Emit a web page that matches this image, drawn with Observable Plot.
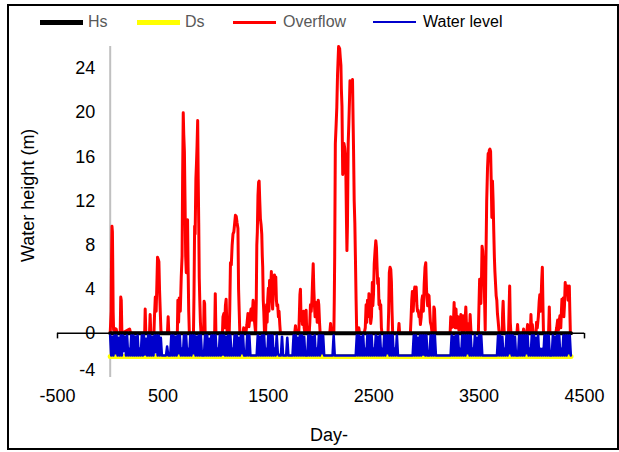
<!DOCTYPE html>
<html><head><meta charset="utf-8">
<script src="https://cdn.jsdelivr.net/npm/d3@7"></script>
<script src="https://cdn.jsdelivr.net/npm/@observablehq/plot@0.6"></script>
<style>
body{margin:0;background:#fff;font-family:"Liberation Sans",Arial,sans-serif;}
#wrap{position:relative;width:619px;height:452px;overflow:hidden;}
#border{position:absolute;left:7px;top:4px;width:612px;height:446px;border:2px solid #000;box-sizing:border-box;pointer-events:none;}
#legend{position:relative;height:35px;}
.sw{position:absolute;}
.lab{position:absolute;top:12px;font-size:16px;line-height:19px;white-space:nowrap;}
#chart svg{display:block;}
</style></head>
<body><div id="wrap"><div id="legend"></div><div id="chart"></div><div id="border"></div></div>
<script>
// ---- data ----
const seriesNames = ["Hs", "Ds", "Overflow", "Water level"];
const seriesColors = ["#000000", "#ffff00", "#ff0000", "#0000cc"];
const xTicks = [-500, 500, 1500, 2500, 3500, 4500];
const yTicks = [-4, 0, 4, 8, 12, 16, 20, 24];

// Hs and Ds: constant levels over the simulated period
const hsDays = [0, 4372];
const hsValues = [0, 0];
const dsDays = [0, 4372];
const dsValues = [-2.1, -2.1];

// Overflow: [day, height m]
const overflow = [
[0,0],[9,2],[13,7],[17,9.7],[21,9.2],[24,6.5],[28,2],[32,0.3],[38,0.5],[46,0],[56,0.4],[66,0],
[95,0],[100,3.3],[105,3.0],[111,0],[184,0.4],[194,0],[327,0],[332,2.2],[338,0],[373,0],[379,1.7],[385,0],
[415,0],[420,1.5],[428,3.3],[436,2.0],[443,4.5],[449,6.9],[456,6.7],[462,6.5],[468,4.0],[475,2.0],[481,0.3],[487,0],
[543,0],[550,1.5],[556,0],
[637,0],[642,3.0],[649,1.0],[655,3.2],[665,2.0],[674,5.1],[682,7.0],[687,14.0],[693,20.0],[698,18.0],[704,16.5],[710,12.0],[716,7.0],[722,5.5],[728,9.0],[734,10.3],[739,6.0],[745,2.0],[751,0],
[790,0],[795,3.5],[801,9.7],[806,9.0],[813,14.0],[819,15.5],[824,17.0],[830,19.3],[835,14.0],[840,10.0],[845,5.0],[850,3.0],[856,1.0],[862,0],
[886,0],[891,2.9],[896,2.7],[901,0],[991,0],[997,3.6],[1003,0],
[1065,0],[1070,1.5],[1078,1.8],[1085,0.5],[1093,2.5],[1100,3.1],[1106,1.0],[1110,0],
[1129,0],[1134,2.0],[1141,6.4],[1149,6.2],[1157,8.0],[1165,9.0],[1173,9.2],[1181,10.0],[1188,10.7],[1196,10.6],[1204,10.0],[1212,9.5],[1218,4.0],[1224,2.0],[1230,0],
[1260,0],[1266,0.5],[1272,0],
[1287,0],[1297,0.8],[1307,1.8],[1316,0.6],[1326,1.5],[1336,2.2],[1346,1.2],[1356,3.0],[1364,2.0],[1370,1.0],
[1380,0],[1386,3.0],[1391,8.0],[1396,9.2],[1402,12.5],[1408,13.7],[1413,13.8],[1419,12.0],[1425,10.4],[1432,9.8],[1438,9.0],[1443,7.0],[1447,6.0],[1452,3.0],[1457,2.0],[1464,0],
[1474,0],[1479,1.5],[1484,2.6],[1489,1.0],[1494,3.0],[1501,4.1],[1506,2.0],[1512,4.8],[1520,3.5],[1529,5.6],[1535,3.0],[1541,2.2],[1547,3.5],[1553,4.8],[1558,5.3],[1564,5.0],[1571,5.1],[1577,3.0],[1582,2.5],[1589,2.6],[1596,1.5],[1602,2.0],[1609,0.8],[1615,0],
[1750,0],[1758,0.7],[1765,0],
[1789,0],[1794,1.5],[1800,3.5],[1805,4.0],[1811,1.2],[1817,2.0],[1823,0.8],[1829,1.5],[1835,2.0],[1840,0.5],[1848,0],[1854,1.5],[1859,2.1],[1865,0],
[1888,0],[1894,1.0],[1900,2.6],[1907,2.0],[1914,3.0],[1919,4.5],[1926,6.3],[1932,4.0],[1938,2.5],[1944,1.5],[1951,2.8],[1958,2.2],[1964,1.0],[1969,2.5],[1974,3.0],[1979,2.6],[1986,1.0],[1992,0],
[2083,0],[2091,0.9],[2099,0],
[2122,0],[2126,3],[2130,7],[2136,17.2],[2144,19],[2150,20.5],[2157,23.5],[2161,24.5],[2167,26.0],[2177,25.8],[2183,25.0],[2189,24.3],[2193,22.2],[2199,20.6],[2206,14.4],[2213,14.8],[2218,17.2],[2225,16.8],[2231,16.0],[2236,14.4],[2242,10.0],[2246,7.5],[2251,9.8],[2258,17.2],[2264,19.0],[2270,21.0],[2275,22.9],[2282,22.7],[2288,22.8],[2293,22.6],[2299,23.0],[2305,19.0],[2309,16.5],[2315,12.0],[2321,10.0],[2327,6.6],[2333,3.0],[2339,0],
[2352,0],[2359,0.5],[2366,0],
[2410,0],[2420,0.5],[2428,2.6],[2434,1.0],[2441,3.0],[2447,1.5],[2455,3.6],[2463,3.0],[2471,0.9],[2479,1.5],[2487,4.6],[2492,2.5],[2498,3.5],[2505,6.3],[2513,7.5],[2520,8.4],[2526,7.8],[2532,6.0],[2538,4.5],[2544,5.0],[2550,2.6],[2555,3.0],[2561,2.2],[2567,2.6],[2573,0.5],[2579,0],
[2636,0],[2642,2.0],[2648,5.5],[2655,6.0],[2662,5.8],[2668,4.7],[2674,2.0],[2680,0],
[2733,0],[2740,0.9],[2746,0],
[2848,0],[2855,1.5],[2861,3.0],[2867,3.8],[2875,2.0],[2882,3.6],[2890,4.2],[2897,3.0],[2903,4.2],[2910,2.5],[2916,2.0],[2922,2.1],[2930,1.5],[2937,1.8],[2943,0.8],[2951,1.5],[2957,3.0],[2963,3.4],[2971,2.0],[2979,4.5],[2987,6.0],[2994,6.4],[3001,4.0],[3006,3.2],[3012,2.5],[3018,3.5],[3025,3.4],[3032,2.0],[3038,1.0],[3046,0.7],[3054,0],[3066,0],[3071,2.4],[3077,2.2],[3085,0],
[3225,0],[3231,1.5],[3237,0.5],[3247,1.2],[3255,0.6],[3263,2.8],[3268,1.0],[3274,0.5],[3281,2.2],[3288,0.5],[3294,0.8],[3301,1.5],[3308,0.3],[3316,0.5],[3327,1.7],[3333,0.3],[3341,0.2],[3348,1.6],[3355,0.2],[3365,0.8],[3374,2.4],[3380,0.8],[3385,0.2],[3390,0.9],[3396,0],[3409,0.2],[3415,1.7],[3422,0.3],[3430,0],
[3493,0],[3500,3.0],[3505,4.9],[3511,4.5],[3517,2.7],[3523,5.0],[3528,7.9],[3534,7.5],[3540,6.3],[3546,6.6],[3552,3.0],[3558,0.3],[3564,6.0],[3572,12.0],[3580,15.0],[3586,16.3],[3591,16.0],[3597,16.6],[3603,16.7],[3609,16.5],[3615,13.8],[3621,10.5],[3627,13.8],[3633,12.0],[3639,9.3],[3645,6.9],[3650,5.6],[3656,4.5],[3662,3.4],[3668,3.0],[3674,1.8],[3680,1.2],[3688,0.3],[3696,0],
[3719,0],[3723,1.8],[3728,2.9],[3734,1.0],[3739,0],
[3779,0],[3784,2.0],[3790,4.3],[3796,1.0],[3802,0],
[3859,0],[3865,0.8],[3871,0],[3916,0],[3922,0.4],[3928,0],
[3951,0],[3960,0.8],[3968,0],[3986,0],[3992,1.7],[3997,0.5],[4005,0.8],[4013,0],[4040,0],[4045,1.0],[4052,0.5],[4062,1.5],[4070,2.9],[4076,3.5],[4084,2.0],[4094,4.8],[4100,6.0],[4106,2.4],[4111,0],
[4159,0],[4166,2.4],[4172,0],
[4227,0],[4236,0.5],[4245,1.2],[4253,0.3],[4261,1.2],[4267,1.6],[4275,0.5],[4281,2.0],[4286,3.1],[4293,2.0],[4299,3.2],[4304,1.5],[4310,2.5],[4317,4.6],[4324,3.5],[4330,4.0],[4337,4.3],[4344,3.0],[4350,3.5],[4356,4.3],[4361,2.0],[4366,0],[4372,0]
];

// Water level, one reading every 10 days from day 0
const waterStepDays = 10;
const waterLevel = [
-0.2,-2,-0.3,-2,-0.2,-1.8,-0.2,-2,-0.4,-2,
-0.2,-2,-0.2,-1.6,-0.3,-2,-0.2,-2,-1.4,-2,
-0.2,-2,-0.2,-2,-0.3,-2,-0.2,-2,-1.4,-2,
-0.2,-2,-0.2,-1.9,-0.5,-2,-0.2,-2,-0.2,-2,
-0.3,-2,-0.2,-1.7,-0.2,-2,-0.2,-2,-0.4,-2,
-2,-2,-2,-2,-1.2,-2,-2,-2,-0.2,-2,
-0.2,-2,-0.3,-2,-0.2,-1.8,-0.2,-2,-1.4,-2,
-0.2,-2,-0.2,-2,-1.4,-2,-0.2,-2,-0.2,-1.8,
-0.2,-2,-0.3,-2,-0.2,-2,-0.2,-2,-2,-2,
-0.2,-2,-0.2,-2,-0.5,-2,-0.2,-2,-0.2,-2,
-0.2,-2,-1.4,-2,-0.2,-2,-0.2,-1.9,-0.2,-2,
-0.3,-2,-0.2,-2,-0.2,-2,-1.4,-2,-0.2,-2,
-0.2,-2,-0.4,-2,-0.2,-1.8,-0.2,-2,-2,-2,
-0.2,-2,-0.2,-2,-2,-2,-2,-2,-2,-2,
-0.2,-2,-0.3,-2,-0.2,-2,-0.2,-2,-1.4,-2,
-0.2,-2,-0.2,-2,-0.2,-2,-1.4,-2,-0.2,-1.8,
-2,-2,-2,-0.3,-2,-2,-2,-2,-0.4,-2,
-2,-2,-2,-2,-0.2,-2,-0.2,-2,-0.4,-2,
-0.2,-2,-0.2,-2,-0.3,-2,-2,-2,-0.2,-2,
-0.2,-2,-0.3,-2,-0.2,-2,-1.4,-2,-0.2,-2,
-0.2,-1.8,-0.2,-2,-2,-2,-2,-2,-2,-2,
-2,-2,-0.2,-2,-2,-2,-2,-2,-2,-2,
-2,-2,-2,-2,-2,-2,-2,-2,-2,-2,
-2,-2,-2,-2,-0.2,-2,-0.2,-2,-0.3,-2,
-0.2,-2,-1.4,-2,-0.2,-2,-0.2,-2,-0.2,-2,
-1.4,-2,-0.2,-2,-0.3,-2,-0.2,-2,-1.4,-2,
-0.2,-2,-0.2,-1.8,-0.2,-2,-0.2,-2,-0.2,-2,
-1.4,-2,-0.2,-2,-2,-2,-2,-2,-2,-2,
-2,-2,-2,-2,-2,-2,-2,-2,-0.2,-2,
-0.2,-2,-0.4,-2,-0.2,-2,-0.2,-1.9,-0.2,-2,
-0.2,-2,-2,-2,-0.2,-2,-0.2,-2,-0.2,-2,
-2,-2,-2,-2,-2,-2,-2,-2,-2,-2,
-2,-2,-2,-2,-0.2,-2,-0.3,-2,-0.2,-2,
-0.2,-2,-1.4,-2,-0.2,-2,-0.2,-2,-0.2,-1.8,
-0.2,-2,-0.2,-2,-1.4,-2,-0.2,-2,-0.4,-2,
-0.2,-2,-0.2,-2,-2,-2,-2,-2,-2,-2,
-2,-2,-2,-2,-2,-2,-2,-2,-0.2,-2,
-0.2,-2,-0.3,-2,-1.4,-2,-0.2,-2,-0.2,-1.8,
-0.2,-2,-0.2,-2,-0.3,-2,-2,-2,-0.2,-2,
-0.2,-2,-0.2,-2,-0.2,-1.8,-0.2,-2,-1.4,-2,
-0.2,-2,-0.2,-2,-0.4,-2,-0.2,-2,-1.4,-2,
-1.4,-2,-0.2,-2,-0.2,-2,-0.2,-2,-2,-2,
-0.2,-2,-0.3,-2,-0.2,-2,-0.2,-2,-1.4,-2,
-0.2,-2,-0.2,-2,-0.2,-1.8,-0.2,-2
];

// ---- build tables ----
const hsData = hsDays.map((d, i) => ({day: d, value: hsValues[i]}));
const dsData = dsDays.map((d, i) => ({day: d, value: dsValues[i]}));
const overflowData = overflow.map(([d, v]) => ({day: d, value: v}));
const waterData = waterLevel.map((v, i) => ({day: i * waterStepDays, value: v}));

// ---- legend (HTML, above the SVG) ----
const legendSwatchX = [40, 137, 233, 373];
const legendTextX = [88, 185, 283, 423];
const legendSwatchH = [5, 5, 3, 2.5];
const legendTextColor = ["#595959", "#595959", "#595959", "#000000"];
const legend = document.getElementById("legend");
seriesNames.forEach((name, i) => {
  const sw = document.createElement("div");
  sw.className = "sw";
  sw.style.left = legendSwatchX[i] + "px";
  sw.style.width = "43px";
  sw.style.height = legendSwatchH[i] + "px";
  sw.style.top = (22 - legendSwatchH[i] / 2) + "px";
  sw.style.background = seriesColors[i];
  legend.appendChild(sw);
  const lab = document.createElement("div");
  lab.className = "lab";
  lab.style.left = legendTextX[i] + "px";
  lab.style.color = legendTextColor[i];
  lab.textContent = name;
  legend.appendChild(lab);
});

// ---- chart ----
const font = "Liberation Sans, Arial, sans-serif";
const chart = Plot.plot({
  width: 619,
  height: 417,
  marginLeft: 57,
  marginRight: 35,
  marginTop: 11,
  marginBottom: 75,
  style: {fontFamily: font, background: "white", overflow: "visible"},
  x: {domain: [-500, 4500], axis: null},
  y: {domain: [-4, 26], axis: null},
  marks: [
    Plot.ruleX([0], {y1: -4, y2: 26, stroke: "#c0c0c0", strokeWidth: 2}),
    Plot.ruleY([0], {x1: xTicks[0], x2: xTicks[xTicks.length - 1], stroke: "#000", strokeWidth: 1.5}),
    Plot.ruleX([xTicks[0], xTicks[xTicks.length - 1]], {y1: 0, y2: -0.5, stroke: "#000", strokeWidth: 1.5}),
    Plot.line(overflowData, {x: "day", y: "value", stroke: seriesColors[2], strokeWidth: 3, strokeLinejoin: "round"}),
    Plot.line(dsData, {x: "day", y: "value", stroke: seriesColors[1], strokeWidth: 5}),
    Plot.line(hsData, {x: "day", y: "value", stroke: seriesColors[0], strokeWidth: 4}),
    Plot.line(waterData, {x: "day", y: "value", stroke: seriesColors[3], strokeWidth: 2.6, strokeLinejoin: "round"}),
    Plot.text(yTicks.filter(d => d >= 0), {x: 0, y: d => d, text: d => String(d), textAnchor: "end", dx: -15, fontSize: 18, fill: "#000"}),
    Plot.text(yTicks.filter(d => d < 0), {x: 0, y: d => d, text: d => String(d), textAnchor: "end", dx: -15, dy: -7, fontSize: 18, fill: "#000"}),
    Plot.text(xTicks, {x: d => d, text: d => String(d), frameAnchor: "bottom", dy: 24, fontSize: 18, fill: "#000"}),
    Plot.text(["Day-"], {frameAnchor: "bottom", dx: 8, dy: 63, fontSize: 18, fill: "#000"}),
    Plot.text(["Water height (m)"], {frameAnchor: "left", dx: -29.5, dy: 50, rotate: -90, fontSize: 18, fill: "#000"})
  ]
});
document.getElementById("chart").appendChild(chart);
</script>
</body></html>
